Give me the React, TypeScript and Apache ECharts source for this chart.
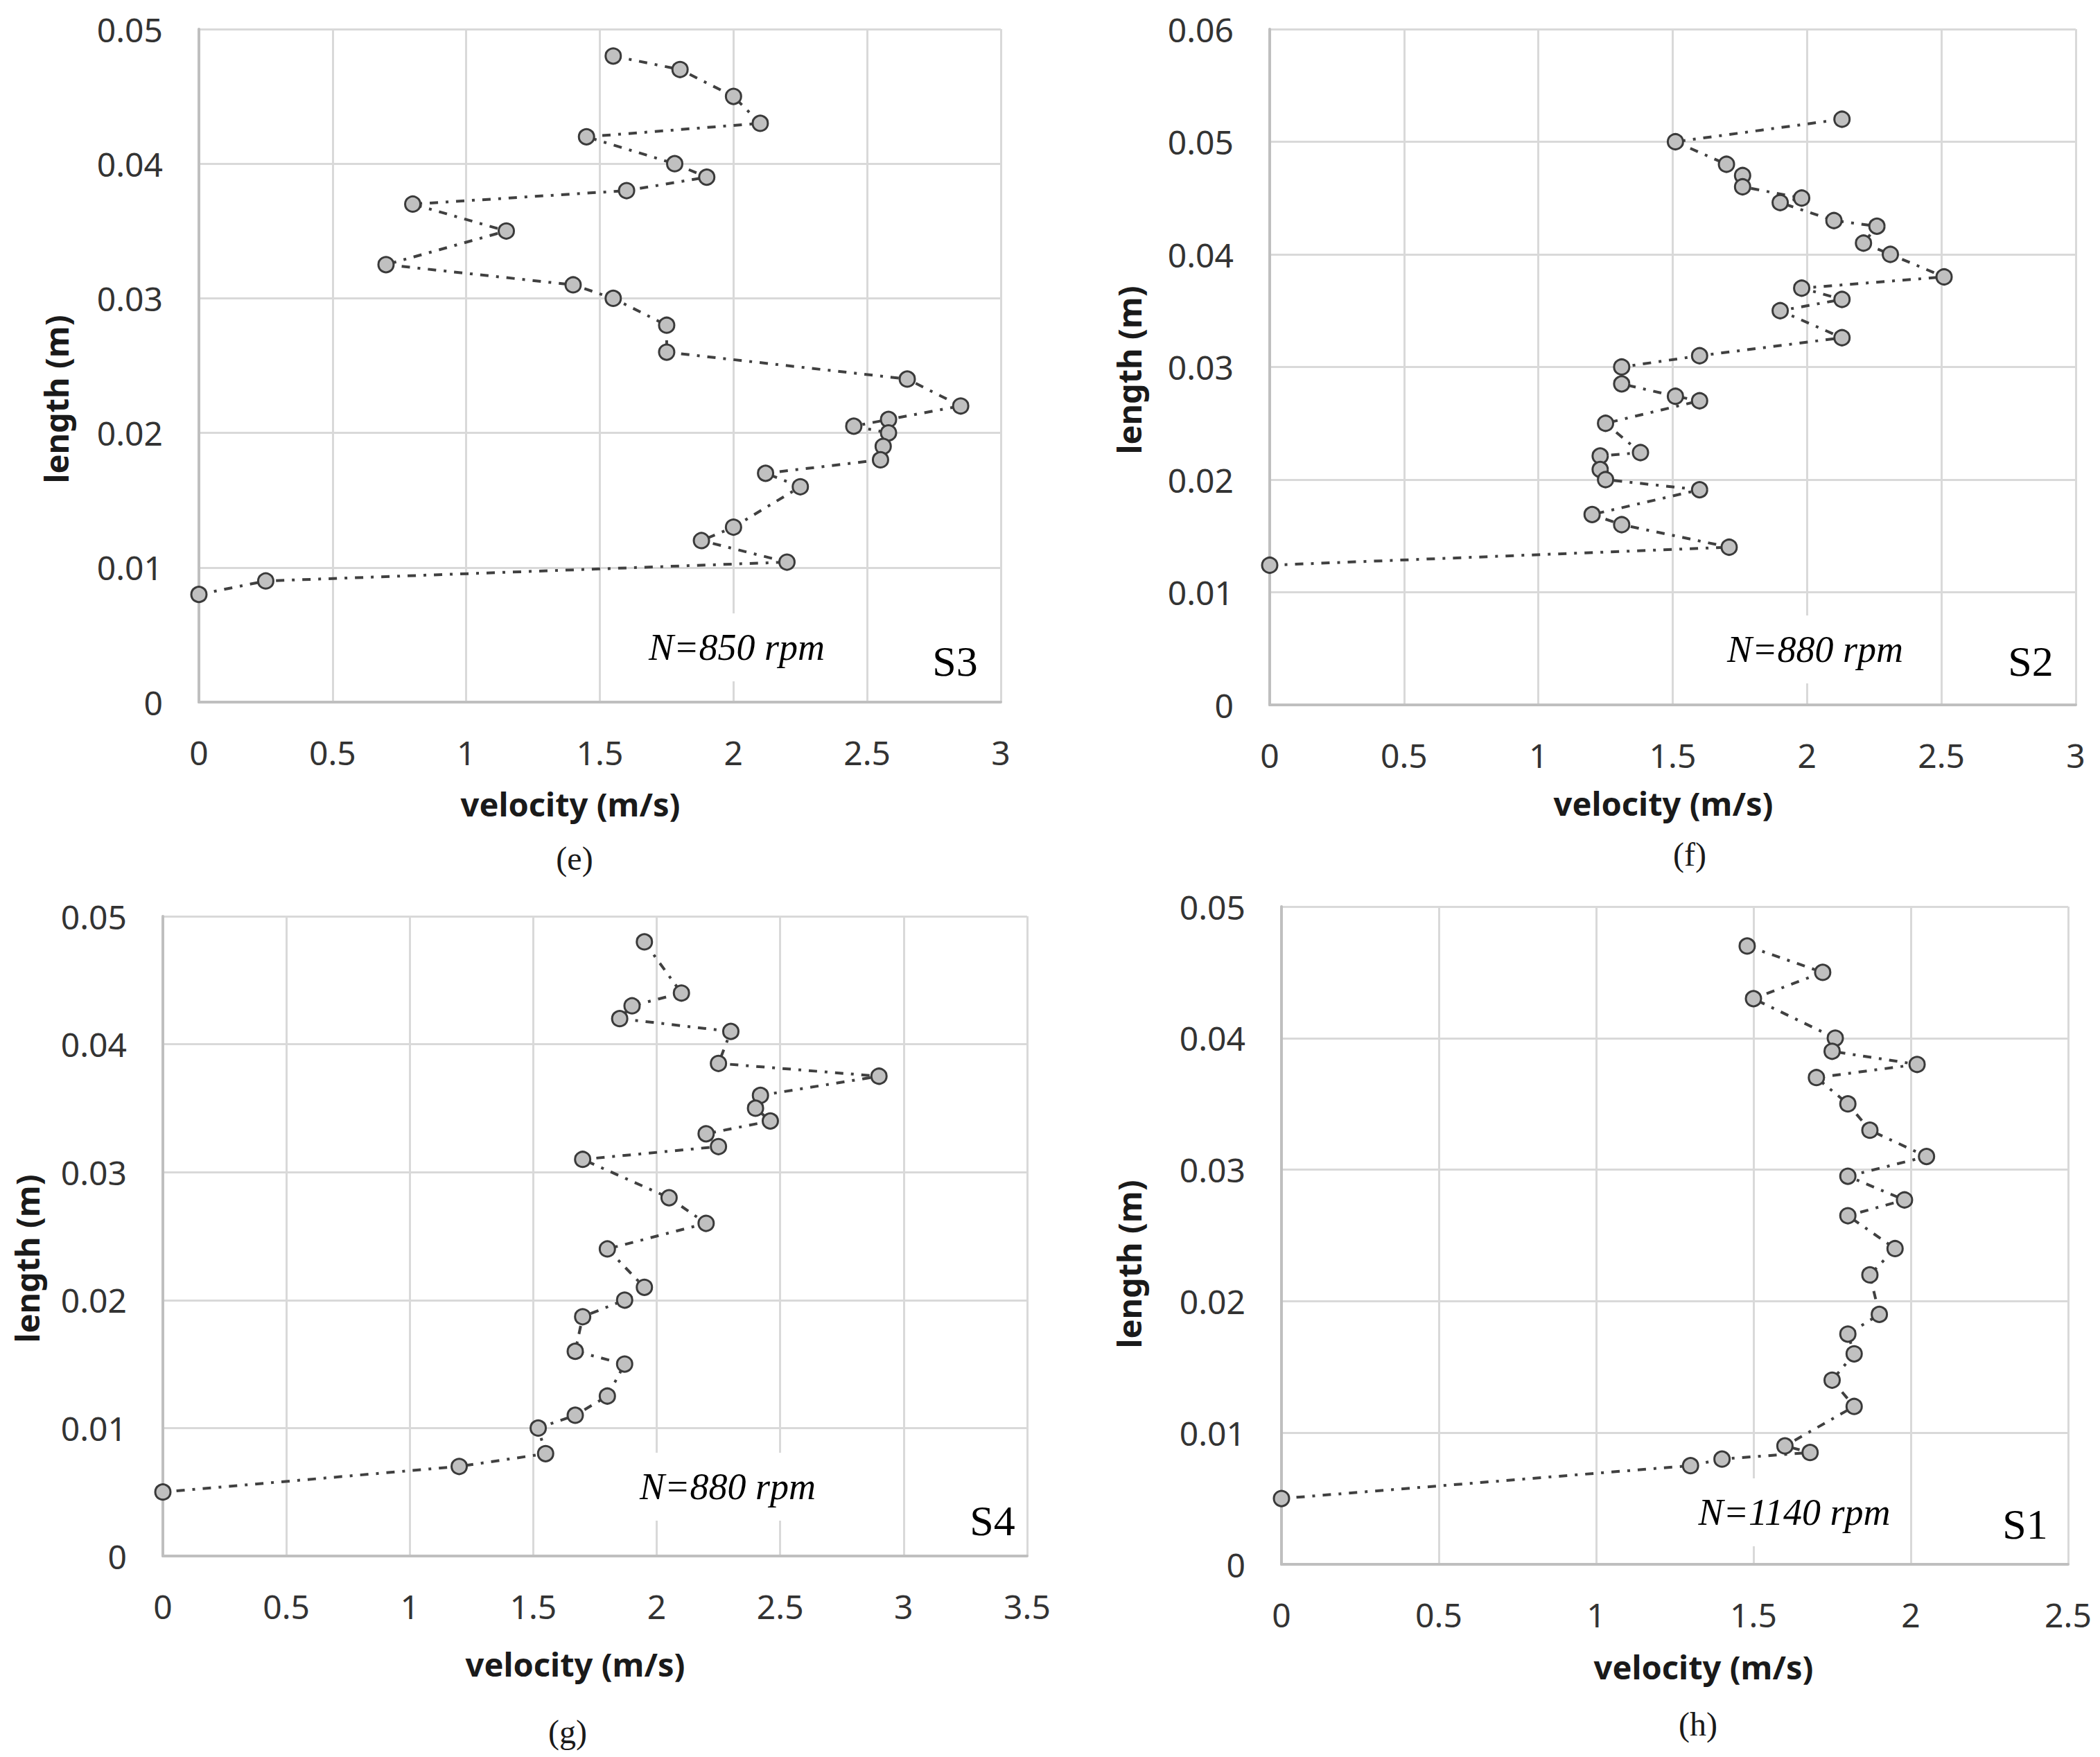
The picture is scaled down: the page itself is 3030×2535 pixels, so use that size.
import React, { useEffect, useRef } from "react";
import * as echarts from "echarts";

// ---- Panel (e) S3, N=850 rpm ----
const E_VELOCITY = [1.55, 1.80, 2.00, 2.10, 1.45, 1.78, 1.90, 1.60, 0.80, 1.15, 0.70, 1.40, 1.55, 1.75, 1.75, 2.65, 2.85, 2.58, 2.45, 2.58, 2.56, 2.55, 2.12, 2.25, 2.00, 1.88, 2.20, 0.25, 0];
const E_LENGTH = [0.048, 0.047, 0.045, 0.043, 0.042, 0.040, 0.039, 0.038, 0.037, 0.035, 0.0325, 0.031, 0.030, 0.028, 0.026, 0.024, 0.022, 0.021, 0.0205, 0.020, 0.019, 0.018, 0.017, 0.016, 0.013, 0.012, 0.0104, 0.009, 0.008];

// ---- Panel (f) S2, N=880 rpm ----
const F_VELOCITY = [2.13, 1.51, 1.70, 1.76, 1.76, 1.98, 1.90, 2.10, 2.26, 2.21, 2.31, 2.51, 1.98, 2.13, 1.90, 2.13, 1.60, 1.31, 1.31, 1.51, 1.60, 1.25, 1.38, 1.23, 1.23, 1.25, 1.60, 1.20, 1.31, 1.71, 0];
const F_LENGTH = [0.052, 0.050, 0.048, 0.047, 0.046, 0.045, 0.0446, 0.043, 0.0425, 0.041, 0.040, 0.038, 0.037, 0.036, 0.035, 0.0326, 0.031, 0.030, 0.0285, 0.0274, 0.027, 0.025, 0.0224, 0.0221, 0.0209, 0.020, 0.0191, 0.0169, 0.016, 0.014, 0.0124];

// ---- Panel (g) S4, N=880 rpm ----
const G_VELOCITY = [1.95, 2.10, 1.90, 1.85, 2.30, 2.25, 2.90, 2.42, 2.40, 2.46, 2.20, 2.25, 1.70, 2.05, 2.20, 1.80, 1.95, 1.87, 1.70, 1.67, 1.87, 1.80, 1.67, 1.52, 1.55, 1.20, 0];
const G_LENGTH = [0.048, 0.044, 0.043, 0.042, 0.041, 0.0385, 0.0375, 0.036, 0.035, 0.034, 0.033, 0.032, 0.031, 0.028, 0.026, 0.024, 0.021, 0.020, 0.0187, 0.016, 0.015, 0.0125, 0.011, 0.010, 0.008, 0.007, 0.005];

// ---- Panel (h) S1, N=1140 rpm ----
const H_VELOCITY = [1.48, 1.72, 1.50, 1.76, 1.75, 2.02, 1.70, 1.80, 1.87, 2.05, 1.80, 1.98, 1.80, 1.95, 1.87, 1.90, 1.80, 1.82, 1.75, 1.82, 1.60, 1.68, 1.40, 1.30, 0];
const H_LENGTH = [0.047, 0.045, 0.043, 0.040, 0.039, 0.038, 0.037, 0.035, 0.033, 0.031, 0.0295, 0.0277, 0.0265, 0.024, 0.022, 0.019, 0.0175, 0.016, 0.014, 0.012, 0.009, 0.0085, 0.008, 0.0075, 0.005];

const X_MAX = [3, 3, 3.5, 2.5];
const Y_MAX = [0.05, 0.06, 0.05, 0.05];
const PANEL_LABELS = ["(e)", "(f)", "(g)", "(h)"];
const SPEED_LABELS = ["N=850 rpm", "N=880 rpm", "N=880 rpm", "N=1140 rpm"];
const SECTION_LABELS = ["S3", "S2", "S4", "S1"];
const X_NAME = "velocity (m/s)";
const Y_NAME = "length (m)";

export default function App() {
  const ref = useRef<HTMLDivElement>(null);

  useEffect(() => {
    if (!ref.current) return;
    document.body.style.margin = "0";
    const chart = echarts.init(ref.current, null, { renderer: "svg", width: 3030, height: 2535 });

    const grids = [
      { left: 287, top: 42, width: 1157, height: 971 },
      { left: 1832, top: 42, width: 1163, height: 975 },
      { left: 235, top: 1322, width: 1247, height: 923 },
      { left: 1849, top: 1308, width: 1135, height: 949 },
    ];
    const series = [
      [E_VELOCITY, E_LENGTH],
      [F_VELOCITY, F_LENGTH],
      [G_VELOCITY, G_LENGTH],
      [H_VELOCITY, H_LENGTH],
    ];

    // positions of texts per panel
    const xNamePos = [[823, 1160], [2400, 1159], [830, 2401], [2458, 2405]];
    const yNamePos = [[81, 576], [1629, 534], [39, 1816], [1629, 1824]];
    const panelPos = [[829, 1238], [2438, 1232], [819, 2498], [2450, 2487]];
    const speedPos = [[1063, 934], [2619, 937], [1050, 2145], [2589, 2182]];
    const sectionPos = [[1378, 954], [2930, 954], [1432, 2194], [2922, 2199]];

    const axisLabelStyle = { fontSize: 48, fontFamily: "Noto Sans", color: "#333333" };
    const axisLineStyle = { color: "#bfbfbf", width: 4 };
    const splitLineStyle = { color: "#d9d9d9", width: 3 };

    const graphics: any[] = [];
    for (let i = 0; i < 4; i++) {
      graphics.push({
        type: "text", x: xNamePos[i][0], y: xNamePos[i][1],
        style: { text: X_NAME, fontSize: 47, fontWeight: "bold", fontFamily: "Noto Sans", fill: "#1a1a1a", textAlign: "center", textVerticalAlign: "middle" },
      });
      graphics.push({
        type: "text", x: yNamePos[i][0], y: yNamePos[i][1], rotation: Math.PI / 2,
        style: { text: Y_NAME, fontSize: 47, fontWeight: "bold", fontFamily: "Noto Sans", fill: "#1a1a1a", textAlign: "center", textVerticalAlign: "middle" },
      });
      graphics.push({
        type: "text", x: panelPos[i][0], y: panelPos[i][1],
        style: { text: PANEL_LABELS[i], fontSize: 48, fontFamily: "Liberation Serif", fill: "#1a1a1a", textAlign: "center", textVerticalAlign: "middle" },
      });
      graphics.push({
        type: "text", x: speedPos[i][0], y: speedPos[i][1], z: 10,
        style: { text: SPEED_LABELS[i], fontSize: 54, fontStyle: "italic", fontFamily: "Liberation Serif", fill: "#000000", textAlign: "center", textVerticalAlign: "middle", backgroundColor: "#ffffff", padding: [22, 24] },
      });
      graphics.push({
        type: "text", x: sectionPos[i][0], y: sectionPos[i][1], z: 10,
        style: { text: SECTION_LABELS[i], fontSize: 62, fontFamily: "Liberation Serif", fill: "#000000", textAlign: "center", textVerticalAlign: "middle", backgroundColor: "#ffffff", padding: [10, 12] },
      });
    }

    const option: any = {
      animation: false,
      backgroundColor: "#ffffff",
      grid: grids.map((g) => ({ ...g, containLabel: false })),
      xAxis: grids.map((_, i) => ({
        type: "value", gridIndex: i, min: 0, max: X_MAX[i], interval: 0.5,
        axisLine: { show: true, onZero: false, lineStyle: axisLineStyle },
        axisTick: { show: false },
        splitLine: { show: true, lineStyle: splitLineStyle },
        axisLabel: { ...axisLabelStyle, margin: 48 },
      })),
      yAxis: grids.map((_, i) => ({
        type: "value", gridIndex: i, min: 0, max: Y_MAX[i], interval: 0.01,
        axisLine: { show: true, onZero: false, lineStyle: axisLineStyle },
        axisTick: { show: false },
        splitLine: { show: true, lineStyle: splitLineStyle },
        axisLabel: { ...axisLabelStyle, margin: 52 },
      })),
      series: series.map(([v, l], i) => ({
        type: "line", xAxisIndex: i, yAxisIndex: i, clip: false,
        data: v.map((x, k) => [x, l[k]]),
        symbol: "circle", symbolSize: 22,
        itemStyle: { color: "#c0c0c0", borderColor: "#3a3a3a", borderWidth: 3 },
        lineStyle: { color: "#404040", width: 4, type: [12, 11, 4, 11] },
      })),
      graphic: graphics,
    };

    chart.setOption(option);
    return () => chart.dispose();
  }, []);

  return <div ref={ref} style={{ position: "absolute", left: 0, top: 0, width: 3030, height: 2535 }} />;
}
